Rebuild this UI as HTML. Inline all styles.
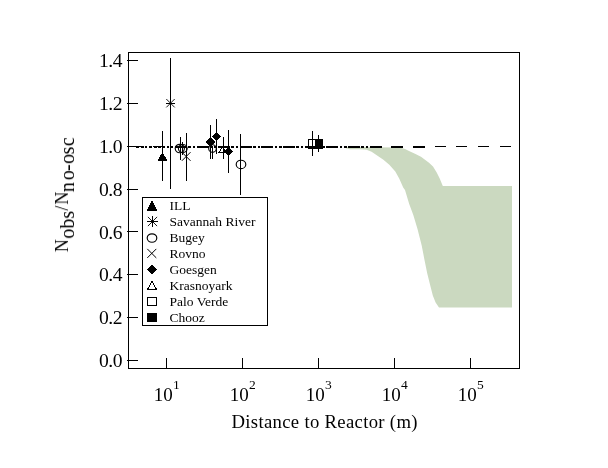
<!DOCTYPE html>
<html><head><meta charset="utf-8"><title>Reactor</title>
<style>html,body{margin:0;padding:0;background:#fff;}body{width:608px;height:468px;overflow:hidden;}svg{display:block;}text{font-family:"Liberation Serif",serif;fill:#000;}</style>
</head><body>
<svg width="608" height="468" viewBox="0 0 608 468">
<rect width="608" height="468" fill="#fff"/>
<polygon fill="#cbd9c0" points="346.0,147.0 400.0,147.5 405.0,148.9 409.0,150.9 415.0,153.8 421.0,156.8 425.0,159.7 429.0,162.7 433.0,166.6 436.7,172.6 439.7,178.5 442.8,186.0 512.0,186.0 512.0,307.5 439.0,307.5 435.6,302.5 432.8,295.6 430.0,284.4 427.2,273.3 424.4,259.4 421.7,245.6 417.5,228.9 413.3,215.0 409.2,203.9 405.0,190.0 403.2,187.4 399.2,178.5 395.3,171.6 389.3,164.7 383.4,159.7 377.5,155.8 371.6,151.8 366.5,149.8 360.0,149.3 350.0,149.2 346.0,148.3"/>
<g shape-rendering="crispEdges" stroke="#000" stroke-width="1" fill="none">
<rect x="128.5" y="52.5" width="391" height="316"/>
<line x1="127" y1="360.5" x2="138" y2="360.5"/>
<line x1="127" y1="317.5" x2="138" y2="317.5"/>
<line x1="127" y1="274.5" x2="138" y2="274.5"/>
<line x1="127" y1="231.5" x2="138" y2="231.5"/>
<line x1="127" y1="189.5" x2="138" y2="189.5"/>
<line x1="127" y1="146.5" x2="138" y2="146.5"/>
<line x1="127" y1="103.5" x2="138" y2="103.5"/>
<line x1="127" y1="60.5" x2="138" y2="60.5"/>
<line x1="166.5" y1="358" x2="166.5" y2="368"/>
<line x1="242.5" y1="358" x2="242.5" y2="368"/>
<line x1="318.5" y1="358" x2="318.5" y2="368"/>
<line x1="394.5" y1="358" x2="394.5" y2="368"/>
<line x1="470.5" y1="358" x2="470.5" y2="368"/>
</g>
<g shape-rendering="crispEdges" fill="#000" stroke="none">
<rect x="131.55" y="146" width="11.00" height="1"/>
<rect x="136.00" y="146" width="3.00" height="2"/>
<rect x="140.50" y="146" width="3.00" height="2"/>
<rect x="144.85" y="146" width="2.60" height="2"/>
<rect x="149.45" y="146" width="2.20" height="2"/>
<rect x="153.20" y="146" width="11.00" height="1"/>
<rect x="153.20" y="146" width="12.00" height="1"/>
<rect x="154.00" y="147" width="3.20" height="1"/>
<rect x="158.20" y="147" width="3.20" height="1"/>
<rect x="162.00" y="147" width="3.20" height="1"/>
<rect x="166.50" y="146" width="2.60" height="2"/>
<rect x="171.10" y="146" width="2.20" height="2"/>
<rect x="174.85" y="146" width="11.00" height="1"/>
<rect x="174.85" y="146" width="12.00" height="2"/>
<rect x="188.15" y="146" width="2.60" height="2"/>
<rect x="192.75" y="146" width="2.20" height="2"/>
<rect x="196.50" y="146" width="11.00" height="1"/>
<rect x="196.50" y="146" width="12.00" height="2"/>
<rect x="209.80" y="146" width="2.60" height="2"/>
<rect x="214.40" y="146" width="2.20" height="2"/>
<rect x="218.15" y="146" width="11.00" height="1"/>
<rect x="218.15" y="146" width="12.00" height="2"/>
<rect x="231.45" y="146" width="2.60" height="2"/>
<rect x="236.05" y="146" width="2.20" height="2"/>
<rect x="239.80" y="146" width="11.00" height="1"/>
<rect x="239.80" y="146" width="12.00" height="2"/>
<rect x="253.10" y="146" width="2.60" height="2"/>
<rect x="257.70" y="146" width="2.20" height="2"/>
<rect x="261.45" y="146" width="11.00" height="1"/>
<rect x="261.45" y="146" width="12.00" height="2"/>
<rect x="274.75" y="146" width="2.60" height="2"/>
<rect x="279.35" y="146" width="2.20" height="2"/>
<rect x="283.10" y="146" width="11.00" height="1"/>
<rect x="283.10" y="146" width="12.00" height="2"/>
<rect x="296.40" y="146" width="2.60" height="2"/>
<rect x="301.00" y="146" width="2.20" height="2"/>
<rect x="304.75" y="146" width="11.00" height="1"/>
<rect x="304.75" y="146" width="12.00" height="2"/>
<rect x="318.05" y="146" width="2.60" height="2"/>
<rect x="322.65" y="146" width="2.20" height="2"/>
<rect x="326.40" y="146" width="11.00" height="1"/>
<rect x="326.40" y="146" width="12.00" height="2"/>
<rect x="339.70" y="146" width="2.60" height="2"/>
<rect x="344.30" y="146" width="2.20" height="2"/>
<rect x="348.05" y="146" width="11.00" height="1"/>
<rect x="348.05" y="146" width="12.00" height="2"/>
<rect x="361.35" y="146" width="2.60" height="2"/>
<rect x="365.95" y="146" width="2.20" height="2"/>
<rect x="369.70" y="146" width="11.00" height="1"/>
<rect x="369.70" y="146" width="12.00" height="2"/>
<rect x="391.35" y="146" width="11.00" height="1"/>
<rect x="391.35" y="146" width="11.50" height="2"/>
<rect x="413.00" y="146" width="11.00" height="1"/>
<rect x="413.00" y="146" width="11.50" height="2"/>
<rect x="434.65" y="146" width="11.00" height="1"/>
<rect x="456.30" y="146" width="11.00" height="1"/>
<rect x="477.95" y="146" width="11.00" height="1"/>
<rect x="499.60" y="146" width="11.00" height="1"/>
</g>
<line x1="162.5" y1="131.0" x2="162.5" y2="181.0" stroke="#000" stroke-width="1" shape-rendering="crispEdges"/>
<polygon points="162.5,152.8 166.5,160.4 158.5,160.4" fill="#000" stroke="#000" stroke-width="1" shape-rendering="crispEdges"/>
<line x1="170.5" y1="58.0" x2="170.5" y2="189.0" stroke="#000" stroke-width="1" shape-rendering="crispEdges"/>
<path d="M166.3 99.0 L174.7 107.4 M166.3 107.4 L174.7 99.0" stroke="#000" stroke-width="0.9" fill="none"/>
<path d="M165.7 103.2 L175.3 103.2 M170.5 98.4 L170.5 108.0" stroke="#000" stroke-width="1" fill="none" shape-rendering="crispEdges"/>
<line x1="180.5" y1="137.0" x2="180.5" y2="160.0" stroke="#000" stroke-width="1" shape-rendering="crispEdges"/>
<ellipse cx="179.8" cy="148.5" rx="4.6" ry="4.2" fill="none" stroke="#000" stroke-width="1.15"/>
<line x1="182.5" y1="142.0" x2="182.5" y2="155.0" stroke="#000" stroke-width="1" shape-rendering="crispEdges"/>
<ellipse cx="182.8" cy="148.5" rx="4.4" ry="4.0" fill="none" stroke="#000" stroke-width="1.15"/>
<line x1="186.5" y1="133.0" x2="186.5" y2="181.0" stroke="#000" stroke-width="1" shape-rendering="crispEdges"/>
<path d="M181.9 152.2 L190.5 160.8 M181.9 160.8 L190.5 152.2" stroke="#000" stroke-width="1" fill="none"/>
<ellipse cx="212.5" cy="148.5" rx="3.8" ry="3.8" fill="none" stroke="#000" stroke-width="1.15"/>
<line x1="212.5" y1="146.0" x2="212.5" y2="159.0" stroke="#000" stroke-width="1" shape-rendering="crispEdges"/>
<line x1="210.5" y1="125.0" x2="210.5" y2="159.0" stroke="#000" stroke-width="1" shape-rendering="crispEdges"/>
<polygon points="210.5,137.5 215.2,142.0 210.5,146.5 205.8,142.0" fill="#000" shape-rendering="crispEdges"/>
<line x1="216.5" y1="119.0" x2="216.5" y2="154.0" stroke="#000" stroke-width="1" shape-rendering="crispEdges"/>
<polygon points="216.5,131.8 221.2,136.3 216.5,140.8 211.8,136.3" fill="#000" shape-rendering="crispEdges"/>
<line x1="228.5" y1="130.0" x2="228.5" y2="173.0" stroke="#000" stroke-width="1" shape-rendering="crispEdges"/>
<polygon points="228.5,146.8 233.2,151.3 228.5,155.8 223.8,151.3" fill="#000" shape-rendering="crispEdges"/>
<line x1="223.5" y1="137.0" x2="223.5" y2="159.0" stroke="#000" stroke-width="1" shape-rendering="crispEdges"/>
<polygon points="222.5,146.5 226.0,152.5 219.0,152.5" fill="none" stroke="#000" stroke-width="1" shape-rendering="crispEdges"/>
<line x1="240.5" y1="134.0" x2="240.5" y2="195.0" stroke="#000" stroke-width="1" shape-rendering="crispEdges"/>
<ellipse cx="241.0" cy="164.4" rx="4.8" ry="4.2" fill="none" stroke="#000" stroke-width="1.15"/>
<rect x="308.5" y="139.8" width="8.0" height="8.4" fill="none" stroke="#000" stroke-width="1" shape-rendering="crispEdges"/>
<line x1="312.5" y1="131.0" x2="312.5" y2="156.0" stroke="#000" stroke-width="1" shape-rendering="crispEdges"/>
<line x1="318.5" y1="135.0" x2="318.5" y2="152.0" stroke="#000" stroke-width="1" shape-rendering="crispEdges"/>
<rect x="315.0" y="139.8" width="7.4" height="8.4" fill="#000" stroke="#000" stroke-width="1" shape-rendering="crispEdges"/>
<rect x="142.5" y="197.5" width="125" height="128" fill="#fff" stroke="#000" stroke-width="1" shape-rendering="crispEdges"/>
<polygon points="152.0,201.4 156.6,210.0 147.4,210.0" fill="#000" stroke="#000" stroke-width="1" shape-rendering="crispEdges"/>
<path d="M147.9 216.9 L157.1 226.1 M147.9 226.1 L157.1 216.9" stroke="#000" stroke-width="0.9" fill="none"/>
<path d="M147.3 221.5 L157.7 221.5 M152.5 216.3 L152.5 226.7" stroke="#000" stroke-width="1" fill="none" shape-rendering="crispEdges"/>
<ellipse cx="152.0" cy="238.0" rx="4.8" ry="4.2" fill="none" stroke="#000" stroke-width="1.15"/>
<path d="M147.3 248.9 L156.3 257.9 M147.3 257.9 L156.3 248.9" stroke="#000" stroke-width="1" fill="none"/>
<polygon points="152.2,264.9 157.5,269.5 152.2,274.1 146.9,269.5" fill="#000" shape-rendering="crispEdges"/>
<polygon points="152.0,281.4 156.6,289.6 147.4,289.6" fill="none" stroke="#000" stroke-width="1" shape-rendering="crispEdges"/>
<rect x="147.5" y="297.5" width="9.0" height="8.0" fill="#fff" stroke="#000" stroke-width="1" shape-rendering="crispEdges"/>
<rect x="147.5" y="313.5" width="9.0" height="8.0" fill="#000" stroke="#000" stroke-width="1" shape-rendering="crispEdges"/>
<g opacity="0.999">
<text x="122" y="367.1" font-size="19.6" text-anchor="end" letter-spacing="-0.5">0.0</text>
<text x="122" y="324.2" font-size="19.6" text-anchor="end" letter-spacing="-0.5">0.2</text>
<text x="122" y="281.4" font-size="19.6" text-anchor="end" letter-spacing="-0.5">0.4</text>
<text x="122" y="238.5" font-size="19.6" text-anchor="end" letter-spacing="-0.5">0.6</text>
<text x="122" y="195.7" font-size="19.6" text-anchor="end" letter-spacing="-0.5">0.8</text>
<text x="122" y="152.8" font-size="19.6" text-anchor="end" letter-spacing="-0.5">1.0</text>
<text x="122" y="109.9" font-size="19.6" text-anchor="end" letter-spacing="-0.5">1.2</text>
<text x="122" y="67.1" font-size="19.6" text-anchor="end" letter-spacing="-0.5">1.4</text>
<text x="153.7" y="401" font-size="19" text-anchor="start">10<tspan font-size="13.5" dy="-12" dx="0.3">1</tspan></text>
<text x="229.7" y="401" font-size="19" text-anchor="start">10<tspan font-size="13.5" dy="-12" dx="0.3">2</tspan></text>
<text x="305.7" y="401" font-size="19" text-anchor="start">10<tspan font-size="13.5" dy="-12" dx="0.3">3</tspan></text>
<text x="381.7" y="401" font-size="19" text-anchor="start">10<tspan font-size="13.5" dy="-12" dx="0.3">4</tspan></text>
<text x="457.7" y="401" font-size="19" text-anchor="start">10<tspan font-size="13.5" dy="-12" dx="0.3">5</tspan></text>
<text x="231.5" y="428" font-size="18.7" textLength="186" lengthAdjust="spacing">Distance to Reactor (m)</text>
<g transform="translate(68,252.2) rotate(-90)"><text y="0" font-size="18"><tspan x="0">N</tspan><tspan dy="6" font-size="20" x="13.5 23.5 33.5">obs</tspan><tspan dy="-6" x="41.6">/</tspan><tspan x="47.4">N</tspan><tspan dy="6" font-size="20" x="60.1 71.9 81.3 88.3 97.8 106.1">no-osc</tspan></text></g>
<text x="169.6" y="210.0" font-size="13.5">ILL</text>
<text x="169.6" y="226.0" font-size="13.5">Savannah River</text>
<text x="169.6" y="242.0" font-size="13.5">Bugey</text>
<text x="169.6" y="258.0" font-size="13.5">Rovno</text>
<text x="169.6" y="274.0" font-size="13.5">Goesgen</text>
<text x="169.6" y="290.0" font-size="13.5">Krasnoyark</text>
<text x="169.6" y="306.0" font-size="13.5">Palo Verde</text>
<text x="169.6" y="322.0" font-size="13.5">Chooz</text>
</g>
</svg></body></html>
